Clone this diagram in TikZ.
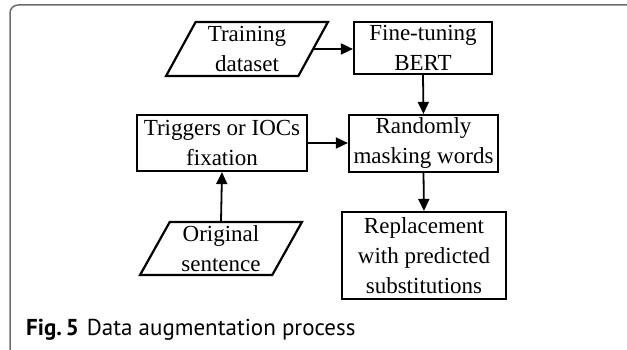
\documentclass[tikz,border=0pt]{standalone}
\usepackage{fontspec}
\setmainfont{Liberation Serif}
\setsansfont{PT Sans}
\usetikzlibrary{shapes.geometric,arrows.meta}

\begin{document}
\begin{tikzpicture}[x=1pt,y=1pt,
    box/.style={draw, line width=2.2pt, align=center, inner sep=1pt,
      font=\fontsize{23}{30}\selectfont},
    data/.style={box, trapezium, trapezium left angle=64, trapezium right angle=116,
      trapezium stretches=true},
    flow/.style={line width=1.8pt, -{Triangle[length=12pt,width=11pt]}}]
    \useasboundingbox (0,0) rectangle (627,349);
    \draw[gray!85!black, line width=1.5pt, rounded corners=8pt] (10,344) rectangle (645,-12);
    % nodes
    \node[data, minimum width=162, minimum height=54] (train) at (247,300) {Training\\dataset};
    \node[box, minimum width=138, minimum height=52] (bert) at (423,301) {Fine-tuning\\BERT};
    \node[box, minimum width=170, minimum height=56] (fix) at (222,206) {Triggers or IOCs\\fixation};
    \node[box, minimum width=149, minimum height=57] (mask) at (423.5,205.5) {Randomly\\masking words};
    \node[data, minimum width=162, minimum height=53] (orig) at (221,100.5) {Original\\sentence};
    \node[box, minimum width=164, minimum height=87] (repl) at (424,93.5) {Replacement\\with predicted\\substitutions};
    % arrows
    \draw[flow] (train.east) -- (train.east -| bert.west);
    \draw[flow] (bert.south) -- (mask.north);
    \draw[flow] (fix.east) -- (fix.east -| mask.west);
    \draw[flow] (orig.north) -- (fix.south);
    \draw[flow] (mask.south) -- (repl.north);
    % caption
    \node[anchor=base west, inner sep=0pt, font=\sffamily\fontsize{23}{26}\selectfont] (cap) at (26,14)
      {\textbf{Fig.\,5}\hspace{8pt}Data augmentation process};
\end{tikzpicture}
\end{document}
